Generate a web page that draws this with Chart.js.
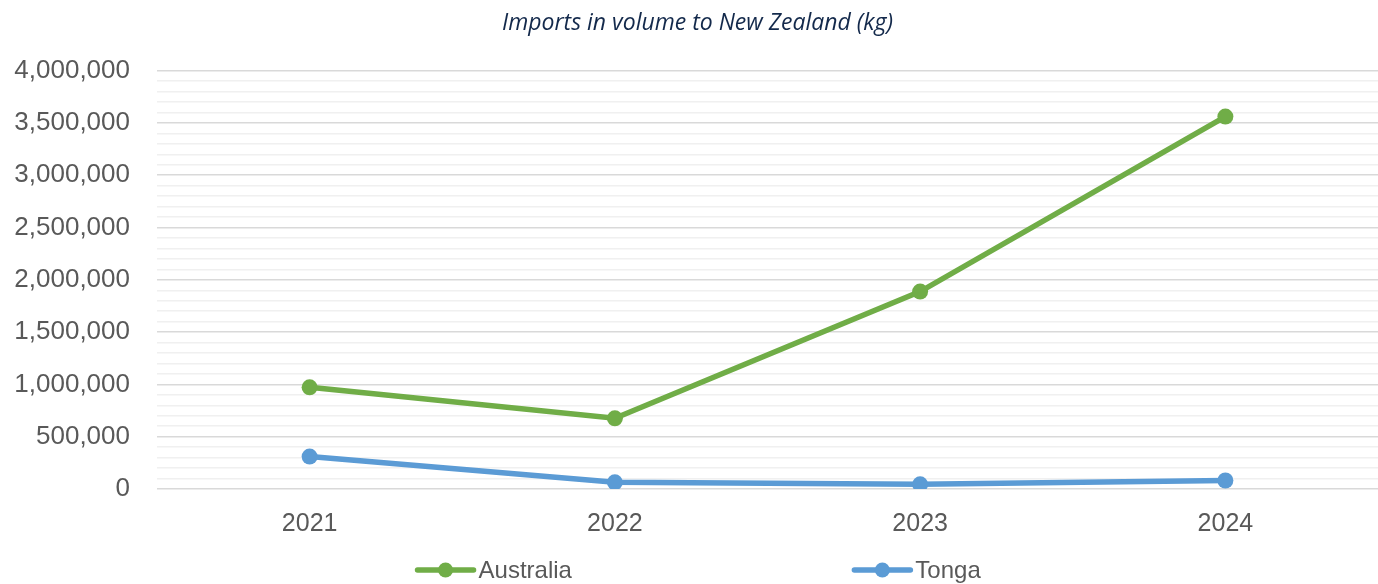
<!DOCTYPE html>
<html>
<head>
<meta charset="utf-8">
<script src="https://cdn.jsdelivr.net/npm/chart.js@4"></script>
<style>
  html, body { margin: 0; padding: 0; background: #fff; }
  #wrap { width: 1378px; height: 584px; }
</style>
</head>
<body>
<div id="wrap"><canvas id="importschart"></canvas></div>
<script>
const years = ['2021', '2022', '2023', '2024'];
const australiaKg = [972000, 676000, 1887000, 3560000];
const tongaKg = [310000, 64000, 45000, 81000];
const seriesNames = ['Australia', 'Tonga'];
const seriesColors = ['#70AD47', '#5B9BD5'];
const yMax = 4000000;

function imptchart() {
    // legend drawn by hand: line with a dot in the middle, like the office chart
    const lineLegend = {
        id: 'lineLegend',
        afterDraw(chart) {
            const ctx = chart.ctx;
            const y = chart.height - 14;
            const starts = [chart.width * 0.303, chart.width * 0.62];
            ctx.save();
            ctx.font = '24px "Liberation Sans", Arial, sans-serif';
            ctx.textBaseline = 'middle';
            chart.data.datasets.forEach((ds, i) => {
                const x = starts[i];
                ctx.strokeStyle = ds.borderColor;
                ctx.lineWidth = 5.5;
                ctx.lineCap = 'round';
                ctx.beginPath();
                ctx.moveTo(x, y);
                ctx.lineTo(x + 56, y);
                ctx.stroke();
                ctx.fillStyle = ds.borderColor;
                ctx.beginPath();
                ctx.arc(x + 28, y, 7.5, 0, Math.PI * 2);
                ctx.fill();
                ctx.fillStyle = '#595959';
                ctx.fillText(ds.label, x + 61, y + 1);
            });
            ctx.restore();
        }
    };

    const data = {
        labels: years,
        datasets: [
            {
                label: seriesNames[0],
                data: australiaKg,
                borderColor: seriesColors[0],
                backgroundColor: seriesColors[0],
                borderWidth: 5.5,
                pointRadius: 8,
                pointHoverRadius: 8,
                pointBorderWidth: 0,
                tension: 0
            },
            {
                label: seriesNames[1],
                data: tongaKg,
                borderColor: seriesColors[1],
                backgroundColor: seriesColors[1],
                borderWidth: 5.5,
                pointRadius: 8,
                pointHoverRadius: 8,
                pointBorderWidth: 0,
                tension: 0
            }
        ]
    };

    const config = {
        type: 'line',
        data: data,
        plugins: [lineLegend],
        options: {
            responsive: true,
            maintainAspectRatio: false,
            animation: false,
            layout: {
                autoPadding: false,
                padding: { left: 12, right: -5, top: 0, bottom: 25 }
            },
            plugins: {
                legend: { display: false },
                tooltip: { enabled: false },
                title: {
                    display: true,
                    text: 'Imports in volume to New Zealand (kg)',
                    color: '#13294B',
                    font: {
                        family: '"Open Sans", sans-serif',
                        size: 23,
                        style: 'italic',
                        weight: 'normal'
                    },
                    padding: { top: 10, bottom: 33 }
                }
            },
            scales: {
                x: {
                    offset: true,
                    grid: { display: false, drawTicks: false },
                    border: { display: false },
                    ticks: {
                        color: '#595959',
                        padding: 20,
                        font: { family: '"Liberation Sans", Arial, sans-serif', size: 25 }
                    }
                },
                y: {
                    min: 0,
                    max: yMax,
                    border: { display: false },
                    afterFit(scale) {
                        scale.width = 145;
                    },
                    grid: {
                        drawTicks: false,
                        color: c => (c.tick && c.tick.value % 500000 === 0) ? '#D9D9D9' : '#F0F0F0',
                        lineWidth: 1.5
                    },
                    ticks: {
                        stepSize: 100000,
                        autoSkip: false,
                        color: '#595959',
                        padding: 27,
                        font: { family: '"Liberation Sans", Arial, sans-serif', size: 26 },
                        callback: v => (v % 500000 === 0) ? v.toLocaleString('en-US') : ''
                    }
                }
            }
        }
    };

    const ctx = document.getElementById('importschart').getContext('2d');
    const chart = new Chart(ctx, config);
}

imptchart();
</script>
</body>
</html>
